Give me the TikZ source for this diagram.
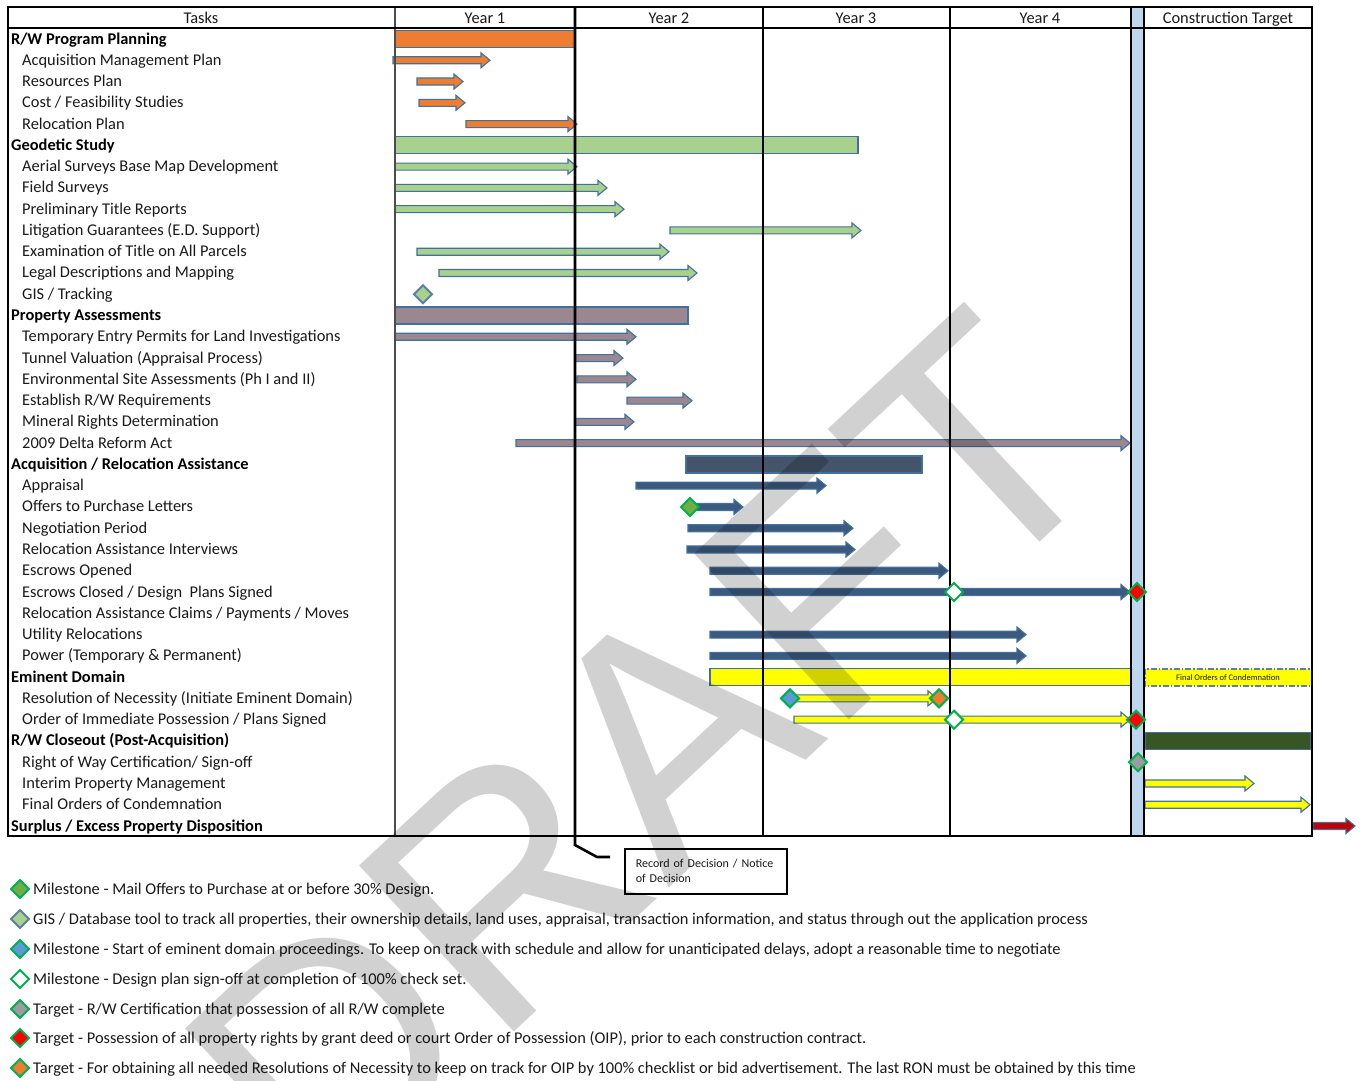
\documentclass[tikz,border=0pt]{standalone}
\usepackage{fontspec}
\setmainfont{Carlito}
\newfontfamily\wmfont{Liberation Sans}
\usetikzlibrary{calc}

\definecolor{txt}{HTML}{1A1A1A}
\definecolor{edgeblue}{HTML}{41719C}
\definecolor{planorange}{HTML}{ED7D31}
\definecolor{geogreen}{HTML}{A9D18E}
\definecolor{assessmauve}{HTML}{9A8790}
\definecolor{acqnavy}{HTML}{44546A}
\definecolor{acqarrow}{HTML}{3D5A7E}
\definecolor{domainyellow}{HTML}{FFFF00}
\definecolor{closegreen}{HTML}{375623}
\definecolor{surplusred}{HTML}{C00000}
\definecolor{bandblue}{HTML}{BDD7EE}
\definecolor{msgreen}{HTML}{00B050}
\definecolor{msfill}{HTML}{70AD47}
\definecolor{msblue}{HTML}{5B9BD5}
\definecolor{msgrey}{HTML}{9E9AA0}
\definecolor{gisedge}{HTML}{5B7FA6}

\newcommand{\lblfont}{\fontsize{16.4}{18}\selectfont}
\newcommand{\legfont}{\fontsize{16.4}{18}\selectfont}

% summary bar on a task row
\newcommand{\taskbar}[4]{%
  \pgfmathsetmacro\yy{39+21.27*#4}%
  \filldraw[barbox, fill=#1] (#2,\yy-8.5) rectangle (#3,\yy+8.5);}
% block arrow on a task row
\newcommand{\taskarrow}[4]{%
  \pgfmathsetmacro\yy{39+21.27*#4}%
  \filldraw[arrowline, fill=#1] (#2,\yy-3.5) -- (#3-9,\yy-3.5) -- (#3-9,\yy-7.5)
    -- (#3,\yy) -- (#3-9,\yy+7.5) -- (#3-9,\yy+3.5) -- (#2,\yy+3.5) -- cycle;}
% milestone diamond: fill, edge, x, y
\newcommand{\milestone}[4]{%
  \filldraw[line width=2, draw=#2, fill=#1, line join=miter]
    (#3,#4-9) -- (#3+9,#4) -- (#3,#4+9) -- (#3-9,#4) -- cycle;}
\newcommand{\rowmilestone}[4]{%
  \pgfmathsetmacro\yy{39+21.27*#4}%
  \milestone{#1}{#2}{#3}{\yy}}

\begin{document}
\begin{tikzpicture}[x=1pt, y=-1pt,
  barbox/.style={draw=edgeblue, line width=1.2},
  arrowline/.style={draw=edgeblue, line width=1.1, line join=miter},
  gridline/.style={draw=black, line width=1.1},
  lbl/.style={anchor=base west, inner sep=0, text=txt, font=\lblfont},
  grp/.style={anchor=base west, inner sep=0, text=black, font=\lblfont\bfseries},
  hdr/.style={anchor=base, inner sep=0, text=txt, font=\lblfont},
  legtxt/.style={anchor=base west, inner sep=0, text=txt, font=\legfont}]

\useasboundingbox (0,0) rectangle (1362,1080);
\fill[white] (0,0) rectangle (1362,1080);

% construction cut-over band
\fill[bandblue] (1131,7) rectangle (1144,836);

% ---------- bars and arrows ----------
% R/W Program Planning
\taskbar{planorange}{395}{575}{0}
\taskarrow{planorange}{393}{490}{1}
\taskarrow{planorange}{417}{463}{2}
\taskarrow{planorange}{419}{465}{3}
\taskarrow{planorange}{466}{577}{4}
% Geodetic Study
\taskbar{geogreen}{395}{858}{5}
\taskarrow{geogreen}{395}{577}{6}
\taskarrow{geogreen}{395}{607}{7}
\taskarrow{geogreen}{395}{624}{8}
\taskarrow{geogreen}{670}{861}{9}
\taskarrow{geogreen}{417}{669}{10}
\taskarrow{geogreen}{439}{697}{11}
% Property Assessments
\taskbar{assessmauve}{395}{688}{13}
\taskarrow{assessmauve}{395}{636}{14}
\taskarrow{assessmauve}{575}{623}{15}
\taskarrow{assessmauve}{577}{636}{16}
\taskarrow{assessmauve}{627}{692}{17}
\taskarrow{assessmauve}{575}{634}{18}
\taskarrow{assessmauve}{516}{1130}{19}
% Acquisition / Relocation Assistance
\taskbar{acqnavy}{686}{922}{20}
\taskarrow{acqarrow}{636}{826}{21}
\taskarrow{acqarrow}{690}{743}{22}
\taskarrow{acqarrow}{688}{853}{23}
\taskarrow{acqarrow}{687}{855}{24}
\taskarrow{acqarrow}{710}{948}{25}
\taskarrow{acqarrow}{710}{1130}{26}
\taskarrow{acqarrow}{710}{1026}{28}
\taskarrow{acqarrow}{710}{1026}{29}
% Eminent Domain
\taskbar{domainyellow}{710}{1131}{30}
\filldraw[fill=domainyellow, draw=gisedge, line width=1.2,
  dash pattern=on 6pt off 2pt on 1.5pt off 2pt] (1145,669) rectangle (1312,686);
\node[inner sep=0, text=txt, font=\fontsize{8.5}{9}\selectfont] (foc) at (1228,678) {Final Orders of Condemnation};
\taskarrow{domainyellow}{790}{937}{31}
\taskarrow{domainyellow}{794}{1130}{32}
% R/W Closeout
\taskbar{closegreen}{1145}{1311}{33}
\taskarrow{domainyellow}{1145}{1254}{35}
\taskarrow{domainyellow}{1145}{1310}{36}
% Surplus
\taskarrow{surplusred}{1313}{1355}{37}

% ---------- grid ----------
\draw[line width=1.1, draw=black!70] (395,7) -- (395,836);
\draw[gridline] (763,7) -- (763,836);
\draw[gridline] (950,7) -- (950,836);
\draw[gridline] (1131,7) -- (1131,836);
\draw[gridline] (1144,7) -- (1144,836);
\draw[gridline] (8,28) -- (1312,28);
\draw[line width=1.5] (8,7) rectangle (1312,836);
% record of decision marker and its callout
\node[draw=black, line width=1.5, anchor=north west, minimum width=162, minimum height=45,
  text width=140, inner xsep=11, inner ysep=6, align=left, text=txt,
  font=\fontsize{12}{15}\selectfont] (rod) at (624,848) {Record of Decision / Notice\\of Decision};
\coordinate (rodknee) at (597,857);
\draw[line width=2.6] (575,7) -- (575,845) -- (rodknee) -- (610,857);

% ---------- milestones ----------
\rowmilestone{geogreen}{gisedge}{423}{12}
\rowmilestone{msfill}{msgreen}{690}{22}
\rowmilestone{white}{msgreen}{954}{26}
\rowmilestone{red}{msgreen}{1137}{26}
\rowmilestone{msblue}{msgreen}{790}{31}
\rowmilestone{planorange}{msgreen}{939}{31}
\rowmilestone{white}{msgreen}{954}{32}
\rowmilestone{red}{msgreen}{1136}{32}
\rowmilestone{msgrey}{msgreen}{1138}{34}

% ---------- header ----------
\node[hdr] (hTasks) at (201,23) {Tasks};
\node[hdr] (hY1) at (485,23) {Year 1};
\node[hdr] (hY2) at (669,23) {Year 2};
\node[hdr] (hY3) at (856,23) {Year 3};
\node[hdr] (hY4) at (1040,23) {Year 4};
\node[hdr] (hCT) at (1228,23) {Construction Target};

% ---------- task labels ----------
\node[grp] (t0)  at (11,{39+21.27*0+5})  {R/W Program Planning};
\node[lbl] (t1)  at (22,{39+21.27*1+5})  {Acquisition Management Plan};
\node[lbl] (t2)  at (22,{39+21.27*2+5})  {Resources Plan};
\node[lbl] (t3)  at (22,{39+21.27*3+5})  {Cost / Feasibility Studies};
\node[lbl] (t4)  at (22,{39+21.27*4+5})  {Relocation Plan};
\node[grp] (t5)  at (11,{39+21.27*5+5})  {Geodetic Study};
\node[lbl] (t6)  at (22,{39+21.27*6+5})  {Aerial Surveys Base Map Development};
\node[lbl] (t7)  at (22,{39+21.27*7+5})  {Field Surveys};
\node[lbl] (t8)  at (22,{39+21.27*8+5})  {Preliminary Title Reports};
\node[lbl] (t9)  at (22,{39+21.27*9+5})  {Litigation Guarantees (E.D. Support)};
\node[lbl] (t10) at (22,{39+21.27*10+5}) {Examination of Title on All Parcels};
\node[lbl] (t11) at (22,{39+21.27*11+5}) {Legal Descriptions and Mapping};
\node[lbl] (t12) at (22,{39+21.27*12+5}) {GIS / Tracking};
\node[grp] (t13) at (11,{39+21.27*13+5}) {Property Assessments};
\node[lbl] (t14) at (22,{39+21.27*14+5}) {Temporary Entry Permits for Land Investigations};
\node[lbl] (t15) at (22,{39+21.27*15+5}) {Tunnel Valuation (Appraisal Process)};
\node[lbl] (t16) at (22,{39+21.27*16+5}) {Environmental Site Assessments (Ph I and II)};
\node[lbl] (t17) at (22,{39+21.27*17+5}) {Establish R/W Requirements};
\node[lbl] (t18) at (22,{39+21.27*18+5}) {Mineral Rights Determination};
\node[lbl] (t19) at (22,{39+21.27*19+5}) {2009 Delta Reform Act};
\node[grp] (t20) at (11,{39+21.27*20+5}) {Acquisition / Relocation Assistance};
\node[lbl] (t21) at (22,{39+21.27*21+5}) {Appraisal};
\node[lbl] (t22) at (22,{39+21.27*22+5}) {Offers to Purchase Letters};
\node[lbl] (t23) at (22,{39+21.27*23+5}) {Negotiation Period};
\node[lbl] (t24) at (22,{39+21.27*24+5}) {Relocation Assistance Interviews};
\node[lbl] (t25) at (22,{39+21.27*25+5}) {Escrows Opened};
\node[lbl] (t26) at (22,{39+21.27*26+5}) {Escrows Closed / Design\ \ Plans Signed};
\node[lbl] (t27) at (22,{39+21.27*27+5}) {Relocation Assistance Claims / Payments / Moves};
\node[lbl] (t28) at (22,{39+21.27*28+5}) {Utility Relocations};
\node[lbl] (t29) at (22,{39+21.27*29+5}) {Power (Temporary \& Permanent)};
\node[grp] (t30) at (11,{39+21.27*30+5}) {Eminent Domain};
\node[lbl] (t31) at (22,{39+21.27*31+5}) {Resolution of Necessity (Initiate Eminent Domain)};
\node[lbl] (t32) at (22,{39+21.27*32+5}) {Order of Immediate Possession / Plans Signed};
\node[grp] (t33) at (11,{39+21.27*33+5}) {R/W Closeout (Post-Acquisition)};
\node[lbl] (t34) at (22,{39+21.27*34+5}) {Right of Way Certification/ Sign-off};
\node[lbl] (t35) at (22,{39+21.27*35+5}) {Interim Property Management};
\node[lbl] (t36) at (22,{39+21.27*36+5}) {Final Orders of Condemnation};
\node[grp] (t37) at (11,{39+21.27*37+5}) {Surplus / Excess Property Disposition};

% ---------- legend ----------
\milestone{msfill}{msgreen}{20}{889}
\milestone{geogreen}{gisedge}{20}{919}
\milestone{msblue}{msgreen}{20}{949}
\milestone{white}{msgreen}{20}{979}
\milestone{msgrey}{msgreen}{20}{1009}
\milestone{red}{msgreen}{20}{1038}
\milestone{planorange}{msgreen}{20}{1068}
\node[legtxt] (l1) at (33,894)  {Milestone - Mail Offers to Purchase at or before 30\% Design.};
\node[legtxt] (l2) at (33,924)  {GIS / Database tool to track all properties, their ownership details, land uses, appraisal, transaction information, and status through out the application process};
\node[legtxt] (l3) at (33,954)  {Milestone - Start of eminent domain proceedings. To keep on track with schedule and allow for unanticipated delays, adopt a reasonable time to negotiate};
\node[legtxt] (l4) at (33,984)  {Milestone - Design plan sign-off at completion of 100\% check set.};
\node[legtxt] (l5) at (33,1014) {Target - R/W Certification that possession of all R/W complete};
\node[legtxt] (l6) at (33,1043) {Target - Possession of all property rights by grant deed or court Order of Possession (OIP), prior to each construction contract.};
\node[legtxt] (l7) at (33,1073) {Target - For obtaining all needed Resolutions of Necessity to keep on track for OIP by 100\% checklist or bid advertisement. The last RON must be obtained by this time};

% ---------- watermark ----------
\node[rotate=43, inner sep=0, text=black, opacity=0.18,
  font=\wmfont\fontsize{330}{330}\selectfont] (wm) at (645,755) {DRAFT};
\end{tikzpicture}
\end{document}
